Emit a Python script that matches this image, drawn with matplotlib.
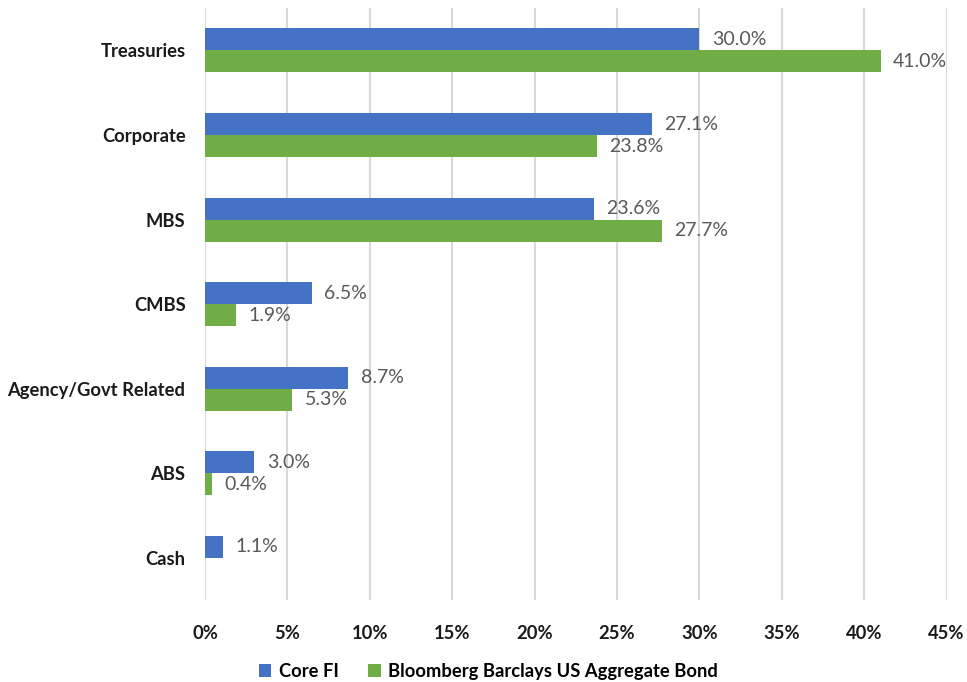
import numpy as np
import matplotlib.pyplot as plt
from matplotlib.ticker import PercentFormatter

categories = ["Treasuries", "Corporate", "MBS", "CMBS", "Agency/Govt Related", "ABS", "Cash"]
core_fi = [30.0, 27.1, 23.6, 6.5, 8.7, 3.0, 1.1]
bbg_agg = [41.0, 23.8, 27.7, 1.9, 5.3, 0.4, 0.0]
x_ticks = [0, 5, 10, 15, 20, 25, 30, 35, 40, 45]

plt.rcParams["font.family"] = ["Lato", "DejaVu Sans"]

fig = plt.figure(figsize=(9.67, 6.82), dpi=100)
ax = fig.add_axes([0.212, 0.12, 0.767, 0.868])

y = np.arange(len(categories))
h = 0.26
b1 = ax.barh(y - h / 2, core_fi, height=h, color="#4472C4", label="Core FI", zorder=3)
b2 = ax.barh(y + h / 2, bbg_agg, height=h, color="#70AD47",
             label="Bloomberg Barclays US Aggregate Bond", zorder=3)

for bars, vals in [(b1, core_fi), (b2, bbg_agg)]:
    for bar, v in zip(bars, vals):
        if v <= 0:
            continue
        ax.text(v + 0.75, bar.get_y() + bar.get_height() / 2, f"{v:.1f}%",
                va="center", ha="left", fontsize=14, color="#595959")

ax.set_ylim(len(categories) - 0.5, -0.5)
ax.set_xlim(0, 45)
ax.set_xticks(x_ticks)
ax.xaxis.set_major_formatter(PercentFormatter(decimals=0))
ax.set_yticks(y)
ax.set_yticklabels(categories)

for lbl in ax.get_xticklabels() + ax.get_yticklabels():
    lbl.set_fontweight("bold")
    lbl.set_fontsize(13.2)
    lbl.set_color("#1a1a1a")

ax.tick_params(axis="x", length=0, pad=18)
ax.tick_params(axis="y", length=0, pad=14)
ax.grid(axis="x", color="#d9d9d9", linewidth=1.5, zorder=0)
for s in ax.spines.values():
    s.set_visible(False)

fig.legend(loc="lower center", bbox_to_anchor=(0.505, -0.021), ncol=2, frameon=False,
           handlelength=0.7, handleheight=0.7, handletextpad=0.4, columnspacing=1.6,
           prop={"weight": "bold", "size": 13.2})

fig.savefig("out.png", dpi=100)
